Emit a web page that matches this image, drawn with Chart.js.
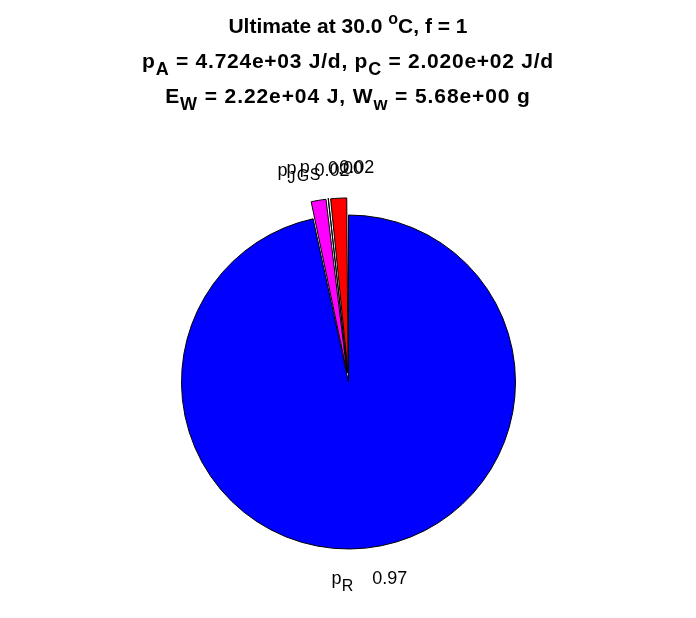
<!DOCTYPE html>
<html>
<head>
<meta charset="utf-8">
<script src="https://cdn.jsdelivr.net/npm/chart.js@4"></script>
<style>
  html, body { margin: 0; padding: 0; background: #fff; }
  #wrap { position: relative; width: 696px; height: 618px; }
  #pieChart { position: absolute; left: 0; top: 0; }
  .tl { position: absolute; left: 0; width: 696px; text-align: center;
        font: bold 21px 'Liberation Sans', Arial, sans-serif; line-height: 24px; color: #000; white-space: nowrap; }
  .tl sub { font-size: 18px; vertical-align: -7px; line-height: 0; }
  .tl sup { font-size: 16px; vertical-align: 9px; line-height: 0; }
</style>
</head>
<body>
<div id="wrap">
  <canvas id="pieChart" width="696" height="618"></canvas>
  <div class="tl" style="top:14px">Ultimate at 30.0 <sup>o</sup>C, f = 1</div>
  <div class="tl" style="top:49px; letter-spacing:0.75px">p<sub>A</sub> = 4.724e+03 J/d, p<sub>C</sub> = 2.020e+02 J/d</div>
  <div class="tl" style="top:84px; letter-spacing:0.9px">E<sub>W</sub> = 2.22e+04 J, W<sub>w</sub> = 5.68e+00 g</div>
</div>
<script>
  // slices in drawing order (clockwise from the top)
  const sliceNames = ['R', 'J', 'G', 'S'];
  const sliceValues = [0.966, 0.016, 0.001, 0.017];
  const sliceColors = ['#0000ff', '#ff00ff', '#808080', '#ff0000'];
  const sliceExplode = [0, 1, 1, 1];

  const OFFSET_PX = 36;   // chart.js offset that pushes the rim out ~0.1 R

  const sliceLabels = {
    id: 'sliceLabels',
    afterDatasetsDraw(chart) {
      const ctx = chart.ctx;
      const meta = chart.getDatasetMeta(0);
      const total = sliceValues.reduce((a, b) => a + b, 0);
      meta.data.forEach((arc, i) => {
        const p = arc.getProps(['x', 'y', 'startAngle', 'endAngle', 'outerRadius'], true);
        const mid = (p.startAngle + p.endAngle) / 2;
        const r = p.outerRadius * (1.175 + 0.115 * sliceExplode[i]);
        const x = p.x + Math.cos(mid) * r;
        const y = p.y + Math.sin(mid) * r;
        const val = (Math.round(sliceValues[i] / total * 100) / 100).toFixed(2);
        const mainFont = '18px "Liberation Sans", Arial, sans-serif';
        const subFont = '16px "Liberation Sans", Arial, sans-serif';
        const gap = 19;
        ctx.save();
        ctx.fillStyle = '#000';
        ctx.textBaseline = 'alphabetic';
        ctx.textAlign = 'left';
        ctx.font = mainFont;
        const wp = ctx.measureText('p').width;
        const wv = ctx.measureText(val).width;
        ctx.font = subFont;
        const ws = ctx.measureText(sliceNames[i]).width;
        const sx = x - (wp + ws + gap + wv) / 2;
        const base = y + 6.5;
        ctx.font = mainFont;
        ctx.fillText('p', sx, base);
        ctx.font = subFont;
        ctx.fillText(sliceNames[i], sx + wp, base + 7);
        ctx.font = mainFont;
        ctx.fillText(val, sx + wp + ws + gap, base);
        ctx.restore();
      });
    }
  };

  const ctx = document.getElementById('pieChart').getContext('2d');
  const pieChart = new Chart(ctx, {
    type: 'pie',
    data: {
      labels: sliceNames.map(n => 'p_' + n),
      datasets: [{
        data: sliceValues,
        backgroundColor: sliceColors,
        borderColor: '#000',
        borderWidth: 1,
        offset: sliceExplode.map(e => e * OFFSET_PX),
        clip: false
      }]
    },
    options: {
      responsive: false,
      animation: false,
      layout: { padding: { left: 163, right: 162, top: 196.5, bottom: 50.5 } },
      plugins: {
        legend: { display: false },
        tooltip: { enabled: false },
        title: { display: false }
      }
    },
    plugins: [sliceLabels]
  });
</script>
</body>
</html>
